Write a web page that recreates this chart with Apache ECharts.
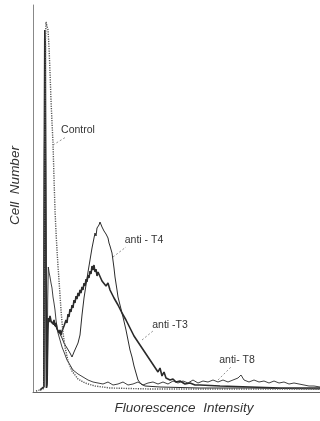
<!DOCTYPE html>
<html>
<head>
<meta charset="utf-8">
<script src="https://cdn.jsdelivr.net/npm/echarts/dist/echarts.min.js"></script>
<style>
  html, body { margin: 0; padding: 0; background: #fff; }
  #chartflow { width: 320px; height: 421px; }
</style>
</head>
<body>
<div id="chartflow"></div>
<script>
// histogram traces: [fluorescence channel, cell count]
const controlData = [
  [3, 1], [7, 2], [10, 3], [11, 7], [11.6, 142], [12, 272], [12.5, 352], [13, 370], [14, 371],
  [15, 362], [16, 345], [17, 320], [18, 292], [19, 270], [20, 249], [21, 214], [22, 182],
  [23, 160], [24, 142], [25, 126], [26, 112], [27, 97], [28, 82], [29, 70], [30, 59], [32, 45],
  [35, 31], [39, 21], [45, 13], [52, 9], [62, 6], [77, 4], [117, 3], [287, 3]
]

const antiT8Data = [
  [7, 2], [10.8, 5], [11.3, 192], [11.8, 352], [12.3, 332], [12.8, 142], [13.4, 4], [14, 7],
  [14.7, 92], [15.3, 125], [16, 120], [17, 115], [18, 109], [19, 104], [20, 95], [21, 89],
  [22, 82], [23, 72], [24, 65], [25, 59], [27, 52], [29, 45], [31, 40], [34, 32], [37, 27],
  [40, 22], [45, 18], [50, 15], [55, 12], [60, 10], [65, 9], [70, 8], [75, 10], [80, 7],
  [85, 8], [90, 10], [95, 7], [100, 8], [105, 10], [110, 7], [115, 9], [120, 10], [125, 8],
  [130, 10], [135, 8], [140, 11], [145, 9], [150, 11], [155, 9], [160, 12], [165, 9],
  [170, 11], [175, 10], [180, 12], [185, 10], [190, 12], [195, 10], [200, 12], [205, 14],
  [208, 17], [211, 12], [216, 10], [221, 12], [226, 10], [231, 11], [236, 9], [241, 11],
  [246, 9], [251, 10], [256, 8], [261, 9], [266, 8], [271, 7], [276, 6], [281, 6], [287, 5]
]

const antiT4Data = [
  [7, 2], [10.8, 5], [11.3, 212], [11.9, 342], [12.4, 322], [12.9, 132], [13.5, 4], [14.2, 10],
  [14.8, 57], [15.3, 72], [17, 74], [19, 69], [21, 71], [23, 65], [25, 62], [27, 58], [29, 54],
  [31, 49], [33, 51], [34, 44], [36, 46], [37, 39], [39, 35], [41, 40], [43, 42], [45, 49],
  [47, 57], [49, 77], [51, 94], [53, 107], [55, 120], [57, 132], [59, 144], [61, 154],
  [62, 159], [63, 156], [64, 164], [66, 167], [67, 170], [68, 168], [69, 165], [70, 166],
  [71, 161], [72, 163], [73, 158], [75, 154], [76, 149], [77, 146], [78, 148], [79, 139],
  [81, 124], [82, 115], [84, 102], [85, 95], [87, 87], [90, 75], [93, 62], [95, 52], [97, 42],
  [99, 35], [101, 26], [103, 19], [105, 12], [108, 8], [112, 6], [127, 5], [167, 4], [217, 4],
  [287, 3]
]

const antiT3Data = [
  [7, 2], [10.8, 5], [11.3, 242], [11.8, 362], [12.3, 347], [12.8, 192], [13.5, 4], [14.2, 12],
  [14.8, 62], [15.3, 74], [16, 70], [17, 76], [18, 71], [19, 73], [20, 68], [21, 72], [22, 66],
  [23, 69], [24, 63], [25, 65], [26, 59], [27, 62], [28, 57], [29, 61], [30, 59], [31, 66],
  [32, 64], [33, 72], [34, 69], [35, 78], [36, 75], [37, 83], [38, 80], [39, 87], [40, 84],
  [41, 92], [42, 89], [43, 96], [44, 93], [45, 99], [46, 96], [47, 102], [48, 99], [49, 105],
  [50, 102], [51, 109], [52, 106], [53, 113], [54, 110], [55, 117], [56, 114], [57, 121],
  [58, 118], [59, 126], [60, 122], [61, 127], [62, 120], [63, 123], [64, 116], [65, 120],
  [67, 119], [69, 111], [71, 113], [73, 106], [75, 109], [77, 102], [79, 104], [81, 94],
  [83, 95], [85, 87], [87, 88], [89, 79], [91, 81], [93, 72], [95, 73], [97, 64], [99, 65],
  [101, 56], [103, 58], [105, 50], [107, 52], [109, 44], [111, 46], [113, 38], [115, 40],
  [117, 32], [119, 34], [121, 26], [123, 28], [125, 20], [127, 24], [129, 16], [131, 20],
  [133, 14], [135, 16], [137, 12], [140, 13], [143, 10], [147, 11], [152, 8], [157, 9],
  [162, 7], [167, 7], [187, 6], [217, 5], [247, 4], [287, 4]
]

// curve labels: text, label anchor, leader line start -> end
const labelTexts = ['Control', 'anti - T4', 'anti -T3', 'anti- T8']
const labelAnchors = [[45, 262], [111, 152], [137, 67], [204, 32]]
const leaderFrom = [[20, 247], [80, 135], [109, 52], [185, 12]]
const leaderTo = [[33, 255], [93, 145], [120, 61], [199, 26]]

const ink = '#2b2b2b'
const fontFamily = 'Liberation Sans, Arial, sans-serif'

function annotate(i) {
  return {
    markPoint: {
      silent: true,
      symbol: 'circle',
      symbolSize: 0,
      data: [{ coord: labelAnchors[i], value: labelTexts[i] }],
      label: {
        show: true,
        position: 'inside',
        formatter: labelTexts[i],
        color: '#333',
        fontSize: 10.5,
        fontFamily: fontFamily
      }
    },
    markLine: {
      silent: true,
      symbol: ['none', 'none'],
      label: { show: false },
      lineStyle: { color: '#777', width: 0.8, type: [2, 2] },
      data: [[{ coord: leaderFrom[i] }, { coord: leaderTo[i] }]]
    }
  }
}

const chart = echarts.init(document.getElementById('chartflow'))

chart.setOption({
  animation: false,
  backgroundColor: '#fff',
  grid: { left: 33, right: 0, top: 5, bottom: 29, containLabel: false },
  xAxis: {
    type: 'value',
    min: 0,
    max: 287,
    name: 'Fluorescence  Intensity',
    nameLocation: 'middle',
    nameGap: 9,
    nameTextStyle: {
      color: '#333',
      fontSize: 13.5,
      fontStyle: 'italic',
      fontFamily: fontFamily,
      padding: [0, 0, 0, 15]
    },
    axisLine: { lineStyle: { color: '#666', width: 1 } },
    axisTick: { show: false },
    axisLabel: { show: false },
    splitLine: { show: false }
  },
  yAxis: {
    type: 'value',
    min: 0,
    max: 387,
    name: 'Cell  Number',
    nameLocation: 'middle',
    nameGap: 11,
    nameRotate: 90,
    nameTextStyle: {
      color: '#333',
      fontSize: 13.5,
      fontStyle: 'italic',
      fontFamily: fontFamily,
      padding: [0, 0, 0, 26]
    },
    axisLine: { show: true, lineStyle: { color: '#888', width: 1 } },
    axisTick: { show: false },
    axisLabel: { show: false },
    splitLine: { show: false }
  },
  series: [
    Object.assign({
      name: 'Control',
      type: 'line',
      data: controlData,
      symbol: 'none',
      z: 3,
      lineStyle: { color: '#555', width: 1.4, type: [1.2, 1.2] }
    }, annotate(0)),
    Object.assign({
      name: 'anti-T4',
      type: 'line',
      data: antiT4Data,
      symbol: 'none',
      z: 2,
      lineStyle: { color: ink, width: 1 }
    }, annotate(1)),
    Object.assign({
      name: 'anti-T3',
      type: 'line',
      data: antiT3Data,
      symbol: 'none',
      z: 2,
      lineStyle: { color: ink, width: 1.6 }
    }, annotate(2)),
    Object.assign({
      name: 'anti-T8',
      type: 'line',
      data: antiT8Data,
      symbol: 'none',
      z: 2,
      lineStyle: { color: ink, width: 0.9 }
    }, annotate(3))
  ]
})
</script>
</body>
</html>
